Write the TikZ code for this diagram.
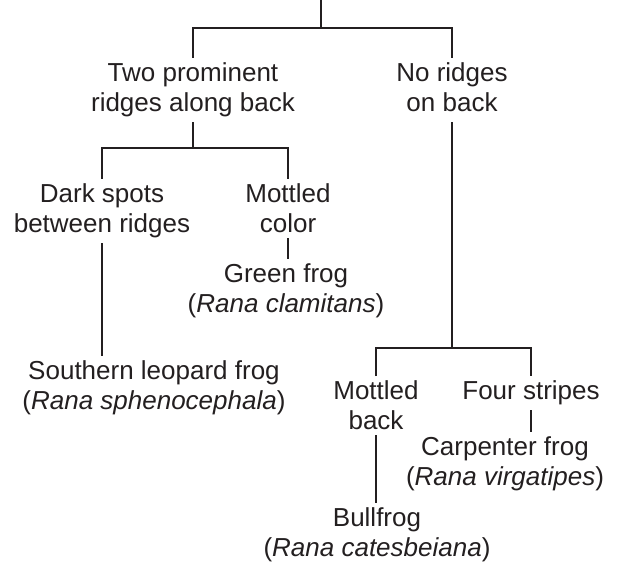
\documentclass[tikz,border=0pt]{standalone}
\usepackage{fontspec}
\setmainfont{Liberation Sans}
\definecolor{inkline}{HTML}{231F20}
\tikzset{
	key/.style={align=center, anchor=north, inner sep=0pt, outer sep=2.5pt, text=inkline, font=\fontsize{13}{15}\selectfont},
	branch/.style={draw=inkline, line width=1.3pt}
}
\begin{document}
\begin{tikzpicture}[x=0.5pt, y=-0.5pt]
	\useasboundingbox (0,0) rectangle (619,566);
	
	% ================= 第一层 =================
	\coordinate (root) at (321,0);
	\coordinate (fork1) at (321,28);
	\node[key] (two) at (193,58) {Two prominent\\ridges along back};
	\node[key] (noridge) at (452,58) {No ridges\\on back};
	
	% ================= 第二层：左 =================
	\coordinate (fork2) at (193,148);
	\node[key] (dark) at (102,179) {Dark spots\\between ridges};
	\node[key] (mottledc) at (288,179) {Mottled\\color};
	\node[key] (green) at (286,259) {Green frog\\(\textit{Rana clamitans})};
	\node[key] (southern) at (154,356) {Southern leopard frog\\(\textit{Rana sphenocephala})};
	
	% ================= 第二层：右 =================
	\coordinate (fork3) at (452,348);
	\node[key] (mottledb) at (376,376) {Mottled\\back};
	\node[key] (four) at (531,376) {Four stripes};
	\node[key] (carp) at (505,432) {Carpenter frog\\(\textit{Rana virgatipes})};
	\node[key] (bull) at (377,503) {Bullfrog\\(\textit{Rana catesbeiana})};
	
	% ================= 连线 =================
	\draw[branch] (root) -- (fork1);
	\draw[branch] (two.north) |- (fork1) -| (noridge.north);
	
	\draw[branch] (two.south) -- (fork2);
	\draw[branch] (dark.north) |- (fork2) -| (mottledc.north);
	\draw[branch] (dark.south) -- (dark.south |- southern.north);
	\draw[branch] (mottledc.south) -- (mottledc.south |- green.north);
	
	\draw[branch] (noridge.south |- two.south) -- (fork3);
	\draw[branch] (mottledb.north) |- (fork3) -| (four.north);
	\draw[branch] (mottledb.south) -- (mottledb.south |- bull.north);
	\draw[branch] (four.south) -- (four.south |- carp.north);
	
\end{tikzpicture}
\end{document}
